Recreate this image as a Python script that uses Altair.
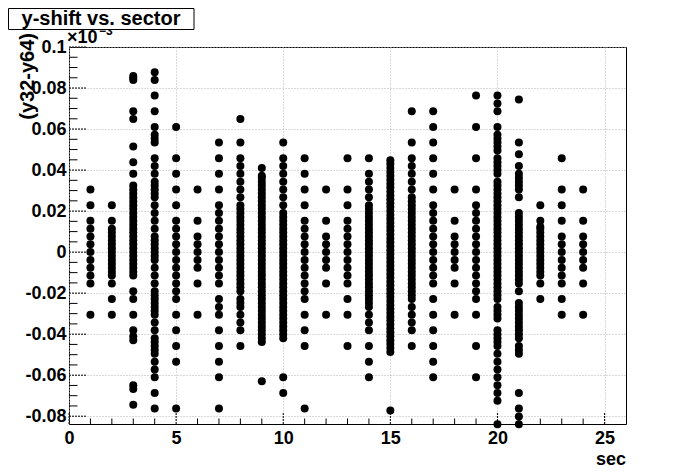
import altair as alt
import pandas as pd

# y values are read in units of the float quantum of (y32-y64), shown in units of 1e-3
Q = 0.0038147

SECTORS = list(range(1, 25))
LEVELS = [
    [8, 6, 4, 3, 2, 1, 0, -1, -2, -3, -4, -8],
    [6, 4, 3, 2.5, 2, 1.5, 1, 0.5, 0, -0.5, -1, -1.5, -2, -2.5, -3, -4, -6, -8],
    [22.5, 22.25, 22, 18, 17, 13.5, 11.5, 10, 8.5, 8, 7.5, 7, 6.5, 6, 5.5, 5, 4.5, 4, 3.5, 3,
     2.5, 2, 1.5, 1, 0.5, 0, -0.5, -1, -1.5, -2, -2.5, -3, -5, -6, -8, -10, -10.75, -11.25,
     -17, -17.5, -19.5],
    [23, 22, 20, 18, 16, 15, 14.5, 14, 12, 11, 10, 9, 8.5, 8, 7.5, 7, 6, 5, 4, 3, 2, 1.5, 1,
     0.5, 0, -0.5, -1, -2, -3, -4, -5, -5.5, -6, -6.5, -7, -7.5, -8, -9, -10, -11, -11.5, -12,
     -12.5, -13, -14, -15, -16, -18, -20],
    [16, 12, 10, 8, 6, 4, 3, 2, 1, 0, -1, -2, -3, -4, -5, -6, -8, -10, -12, -14, -20],
    [8, 4, 2, 1, 0, -1, -2, -4, -8],
    [14, 12, 10, 8, 6, 5, 4, 3, 2, 1, 0, -1, -2, -3, -4, -6, -7, -8, -10, -12, -14, -16, -20],
    [17, 14, 12, 11, 10, 9, 8, 7, 6, 5.5, 5, 4.5, 4, 3.5, 3, 2.5, 2, 1.5, 1, 0.5, 0, -0.5, -1,
     -1.5, -2, -2.5, -3, -3.5, -4, -4.5, -5, -6, -6.5, -7, -8, -9, -10, -12],
    [10.75, 9.75, 9.5, 9, 8.5, 8, 7.5, 7, 6.5, 6, 5.5, 5, 4.5, 4, 3.5, 3, 2.5, 2, 1.5, 1, 0.5,
     0, -0.5, -1, -1.5, -2, -2.5, -3, -3.5, -4, -4.5, -5, -5.5, -6, -6.5, -7, -7.5, -8, -8.5,
     -9, -9.5, -10, -10.5, -11, -11.5, -16.5],
    [14, 12, 11, 10, 9, 8, 7, 6, 5, 4.5, 4, 3.5, 3, 2.5, 2, 1.5, 1, 0.5, 0, -0.5, -1, -1.5, -2,
     -2.5, -3, -3.5, -4, -4.5, -5, -5.5, -6, -6.5, -7, -7.5, -8, -8.5, -9, -9.5, -10, -10.5,
     -11, -16, -18],
    [12, 10, 8, 6, 4, 3, 2, 1, 0, -1, -2, -3, -4, -5, -6, -8, -10, -12, -20],
    [8, 4, 2, 1, 0, -1, -2, -4, -8],
    [12, 8, 6, 4, 3, 2, 1, 0, -1, -2, -3, -4, -6, -8, -12],
    [12, 10, 9, 8, 7, 6, 5.5, 5, 4.5, 4, 3.5, 3, 2.5, 2, 1.5, 1, 0.5, 0, -0.5, -1, -1.5, -2,
     -2.5, -3, -3.5, -4, -4.5, -5, -5.5, -6, -6.5, -7, -8, -9, -10, -12, -14, -16],
    [11.75, 11.25, 10.75, 10.25, 9.75, 9.25, 8.75, 8.25, 7.75, 7.25, 6.75, 6.25, 5.75, 5.25,
     4.75, 4.25, 3.75, 3.25, 2.75, 2.25, 1.75, 1.25, 0.75, 0.25, -0.25, -0.75, -1.25, -1.75,
     -2.25, -2.75, -3.25, -3.75, -4.25, -4.75, -5.25, -5.75, -6.25, -6.75, -7.25, -7.75, -8.25,
     -8.75, -9.25, -9.75, -10.25, -10.75, -11.25, -11.75, -12.25, -12.75, -20.25],
    [18, 14, 12, 11, 10, 9, 8, 7, 6.5, 6, 5.5, 5, 4.5, 4, 3.5, 3, 2.5, 2, 1.5, 1, 0.5, 0, -0.5,
     -1, -1.5, -2, -2.5, -3, -3.5, -4, -4.5, -5, -5.5, -6, -7, -8, -9, -10, -12],
    [18, 16, 14, 12, 10, 8, 6, 5, 4, 3, 2, 1, 0, -1, -2, -3, -4, -6, -8, -10, -12, -14, -16],
    [8, 4, 2, 1, 0, -1, -2, -4, -8],
    [20, 16, 12, 8, 6, 5, 4, 3, 2, 1, 0, -1, -2, -3, -4, -5, -6, -8, -12, -16],
    [20, 19, 18, 16, 15, 14.5, 14, 13.5, 13, 12, 11.5, 11, 10.5, 10, 9, 8.5, 8, 7.5, 7, 6.5, 6,
     5.5, 5, 4.5, 4, 3.5, 3, 2.5, 2, 1.5, 1, 0.5, 0, -0.5, -1, -1.5, -2, -2.5, -3, -3.5, -4,
     -4.5, -5, -5.5, -6, -7, -7.5, -8, -8.5, -10, -10.5, -11, -11.5, -12, -13, -14, -15, -16,
     -17, -18, -19, -22],
    [19.5, 14, 12.5, 11, 10, 9.5, 9, 8.5, 8, 7, 5, 4.5, 4, 3.5, 3, 2.5, 2, 1.5, 1, 0.5, 0, -0.5,
     -1, -1.5, -2, -2.5, -3, -3.5, -4, -5, -6.5, -7, -7.5, -8, -8.5, -9, -9.5, -10, -10.5, -11,
     -12, -12.5, -13, -18, -20, -21, -22],
    [6, 4, 3.25, 3, 2.5, 2, 1.5, 1, 0.5, 0, -0.5, -1, -1.5, -2, -2.5, -3, -4, -6],
    [12, 8, 6, 4, 2, 1, 0, -1, -2, -3, -4, -6, -8],
    [8, 4, 2, 1, 0, -1, -2, -4, -8],
]

X_MAJOR = [0, 5, 10, 15, 20, 25]
X_MINOR = [1, 2, 3, 4, 6, 7, 8, 9, 11, 12, 13, 14, 16, 17, 18, 19, 21, 22, 23, 24]
Y_MAJOR = [-0.08, -0.06, -0.04, -0.02, 0, 0.02, 0.04, 0.06, 0.08, 0.1]
Y_MINOR = [-0.075, -0.07, -0.065, -0.055, -0.05, -0.045, -0.035, -0.03, -0.025,
           -0.015, -0.01, -0.005, 0.005, 0.01, 0.015, 0.025, 0.03, 0.035,
           0.045, 0.05, 0.055, 0.065, 0.07, 0.075, 0.085, 0.09, 0.095]

TITLE = "y-shift vs. sector"
X_TITLE = "sec"
Y_TITLE = "(y32-y64)"
EXP_BASE = "\u00d710"
EXP_POW = "\u22123"

FONT = "Liberation Sans"
W, H = 557, 377

rows = [{"sec": s, "dy": k * Q} for s, lv in zip(SECTORS, LEVELS) for k in lv]
pts = pd.DataFrame(rows)

xs = alt.Scale(domain=[0, 26], nice=False, zero=False)
ys = alt.Scale(domain=[-0.0838, 0.1], nice=False, zero=False)

xax = alt.Axis(values=X_MAJOR, grid=True, ticks=False, domain=False, title=None,
               labelFont=FONT, labelFontSize=18, labelFontWeight="bold", labelColor="black",
               labelPadding=5, labelFlush=False, labelOverlap=False,
               gridColor="#b4b4b4", gridDash=[1, 2], gridWidth=1)
yax = alt.Axis(values=Y_MAJOR, grid=True, ticks=False, domain=False, title=None,
               format=".2~f", labelExpr="replace(datum.label, '\u2212', '-')",
               labelFont=FONT, labelFontSize=18, labelFontWeight="bold", labelColor="black",
               labelPadding=3, labelFlush=False, labelOverlap=False,
               gridColor="#b4b4b4", gridDash=[1, 2], gridWidth=1)

points = alt.Chart(pts).mark_circle(size=64, color="black", opacity=1).encode(
    x=alt.X("sec:Q", scale=xs, axis=xax),
    y=alt.Y("dy:Q", scale=ys, axis=yax),
)

ymaj = alt.Chart(pd.DataFrame({"v": Y_MAJOR})).mark_rule(
    color="black", strokeWidth=1, strokeDash=[2, 1]).encode(
    y=alt.Y("v:Q", scale=ys, axis=yax), x=alt.value(0), x2=alt.value(17))
ymin = alt.Chart(pd.DataFrame({"v": Y_MINOR})).mark_rule(
    color="black", strokeWidth=1).encode(
    y=alt.Y("v:Q", scale=ys, axis=yax), x=alt.value(0), x2=alt.value(8.5))
xmaj = alt.Chart(pd.DataFrame({"v": X_MAJOR})).mark_rule(
    color="black", strokeWidth=1, strokeDash=[2, 1]).encode(
    x=alt.X("v:Q", scale=xs, axis=xax), y=alt.value(H), y2=alt.value(H - 11))
xmin = alt.Chart(pd.DataFrame({"v": X_MINOR})).mark_rule(
    color="black", strokeWidth=1).encode(
    x=alt.X("v:Q", scale=xs, axis=xax), y=alt.value(H), y2=alt.value(H - 5.5))

one = pd.DataFrame({"t": [TITLE], "xt": [X_TITLE], "yt": [Y_TITLE],
                    "eb": [EXP_BASE], "ep": [EXP_POW]})

exp_base = alt.Chart(one).mark_text(font=FONT, fontSize=18, fontWeight="bold", color="black",
                                    align="left", baseline="alphabetic").encode(
    text="eb:N", x=alt.value(-2), y=alt.value(-4))
exp_pow = alt.Chart(one).mark_text(font=FONT, fontSize=12, fontWeight="bold", color="black",
                                   align="left", baseline="alphabetic").encode(
    text="ep:N", x=alt.value(30), y=alt.value(-12))
box = alt.Chart(one).mark_rect(fill="white", stroke="black", strokeWidth=1).encode(
    x=alt.value(-60.5), x2=alt.value(125), y=alt.value(-38.5), y2=alt.value(-17.5))
title = alt.Chart(one).mark_text(font=FONT, fontSize=20, fontWeight="bold", color="black",
                                 align="center", baseline="alphabetic").encode(
    text="t:N", x=alt.value(32), y=alt.value(-22.5))
ytitle = alt.Chart(one).mark_text(font=FONT, fontSize=20, fontWeight="bold", color="black",
                                  align="right", baseline="middle", angle=270).encode(
    text="yt:N", x=alt.value(-41), y=alt.value(-14))
xtitle = alt.Chart(one).mark_text(font=FONT, fontSize=18, fontWeight="bold", color="black",
                                  align="right", baseline="alphabetic").encode(
    text="xt:N", x=alt.value(W), y=alt.value(H + 41))

chart = alt.layer(
    points, ymaj, ymin, xmaj, xmin, exp_base, exp_pow, box, title, ytitle, xtitle
).properties(
    width=W, height=H,
    autosize=alt.AutoSizeParams(type="none"),
    padding={"left": 61, "top": 39, "right": 62, "bottom": 48},
    background="white",
).configure_view(stroke="black", strokeWidth=1)

chart.save("out.html", embed_options={"renderer": "svg", "actions": False})
